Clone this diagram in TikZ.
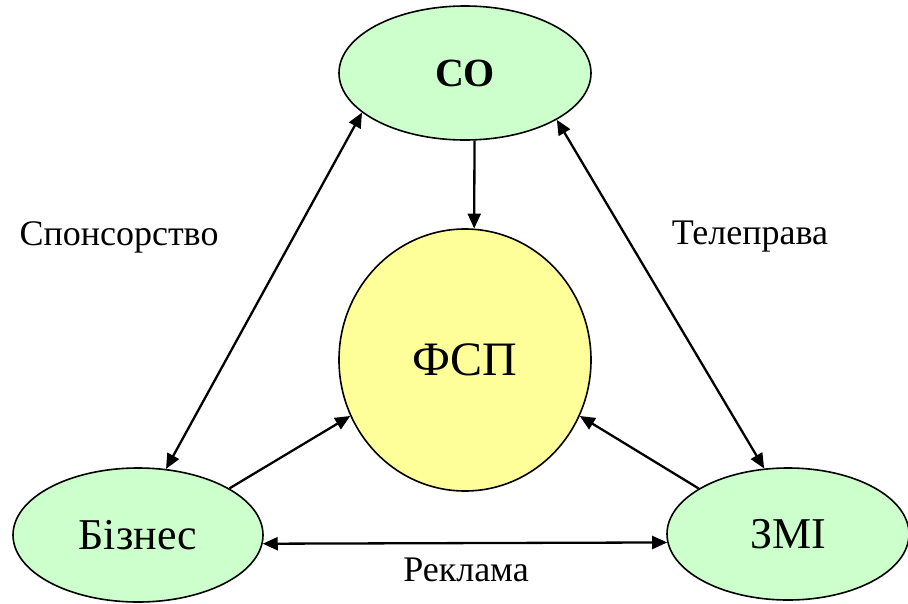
\documentclass[tikz,border=0pt]{standalone}
\usepackage{fontspec}
\setmainfont{Liberation Serif}
\usetikzlibrary{shapes,arrows.meta,positioning}

\begin{document}
\begin{tikzpicture}[x=1pt, y=-1pt, align=center]
    \tikzset{
        n/.style        =   { ellipse
                            , draw=black
                            , line width=1.6pt
                            , fill=green!20
                            , inner sep=0pt
                            , font=\fontsize{44}{48}\selectfont
        }
        , lbl/.style    =   { font=\fontsize{36}{40}\selectfont
        }
        , arrow/.style  =   { line width=2.3pt
                            , -{Triangle[length=15pt,width=13pt]}
        }
        , both/.style   =   { line width=2.3pt
                            , {Triangle[length=15pt,width=13pt]}-{Triangle[length=15pt,width=13pt]}
        }
    }
    \useasboundingbox (0,0) rectangle (908,603);
    \node(0)[n, minimum width=252pt, minimum height=134pt,
             font=\fontsize{40}{44}\selectfont\bfseries] at (465,73) {СО};
    \node(1)[n, fill={rgb,255:red,255;green,255;blue,153},
             minimum width=252pt, minimum height=262pt,
             font=\fontsize{48}{52}\selectfont] at (465,360) {ФСП};
    \node(2)[n, minimum width=250pt, minimum height=134pt] at (138,535) {Бізнес};
    \node(3)[n, minimum width=242pt, minimum height=132pt] at (788,534) {ЗМІ};

    \node(4)[lbl] at (119,237) {Спонсорство};
    \node(5)[lbl] at (750,237) {Телеправа};
    \node(6)[lbl] at (466,570) {Реклама};

    \draw[arrow] (0.-82) -- (1.86);
    \draw[both]  (0.201) -- (2.67);
    \draw[both]  (0.333) -- (3.110);
    \draw[arrow] (2.27)  -- (1.206);
    \draw[arrow] (3.153) -- (1.334);
    \draw[both]  (2.-4)  -- (3.184);
\end{tikzpicture}
\end{document}
